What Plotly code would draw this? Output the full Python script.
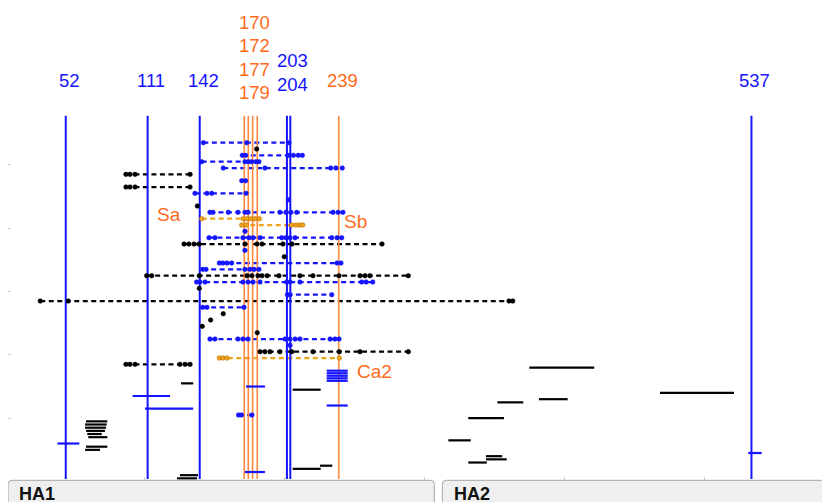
import plotly.graph_objects as go

# ---------------- data ----------------
# marked residues: label shown above the chart, drawn position on the sequence axis
site_labels = ["52", "111", "142", "170", "172", "177", "179", "203", "204", "239", "537"]
site_pos = [44.1, 102.6, 139.8, 171.6, 174.5, 177.6, 180.9, 202.1, 204.5, 239.1, 533.9]
site_kind = ["blue", "blue", "blue", "orange", "orange", "orange", "orange",
             "blue", "blue", "orange", "blue"]
site_group = [0, 1, 2, 3, 3, 3, 3, 4, 4, 5, 6]

# antigenic site names
antigenic_names = ["Sa", "Sb", "Ca2"]
antigenic_x = [117.6, 250.9, 264.5]
antigenic_row = [11.3, 12.5, 36.05]

# epitope rows (dashed, with residue dots)
dash_rows = list(range(0, 36)) + [43]
dash_kind = ["blue", "black", "blue", "blue", "blue", "black", "blue", "black", "blue", "blue",
             "black", "blue", "orange", "orange", "blue", "blue", "black", "blue", "black", "blue",
             "blue", "black", "blue", "black", "blue", "black", "blue", "black", "black", "black",
             "black", "blue", "blue", "black", "orange", "black", "blue"]
dash_points = [
    [142.4, 173.4, 203.6],
    [180.5],
    [170.2, 172.6, 203.1, 206.6, 210.2, 213.1],
    [141.2, 172.1, 174.5, 176.9, 180.0, 182.1],
    [156.6, 186.4, 233.4, 237.1, 241.6],
    [87.1, 90.0, 93.6, 132.9],
    [169.8, 172.6],
    [87.1, 90.0, 93.6, 132.9],
    [136.4, 145.0, 148.4, 172.9],
    [203.1],
    [138.1],
    [147.1, 149.3, 160.2, 167.1, 172.1, 174.3, 197.1, 201.4, 205.0, 209.1, 235.0, 238.6, 242.1],
    [141.2, 170.9, 173.6, 176.4, 179.3, 182.4],
    [169.8, 172.9, 205.5, 208.6, 211.4, 213.4],
    [172.1],
    [146.4, 150.7, 170.7, 175.0, 177.9, 182.9, 198.4, 201.4, 204.3, 207.9, 234.1, 237.9, 241.2],
    [128.6, 132.1, 135.7, 139.3, 172.1, 180.7, 184.3, 199.3, 205.7, 270.0],
    [172.1],
    [200.2],
    [153.8, 156.4, 159.3, 162.6, 237.9, 240.7],
    [141.9, 144.3, 172.1, 175.7, 178.6, 182.1],
    [101.9, 105.5, 139.5, 173.6, 177.1, 181.4, 184.3, 187.9, 196.4, 211.4, 220.7, 239.3,
     254.3, 257.9, 261.4, 288.8],
    [137.6, 140.0, 143.6, 170.7, 174.3, 177.9, 182.9, 201.9, 204.3, 211.4, 255.5, 258.6, 263.4],
    [139.5],
    [202.4, 204.3, 234.1],
    [25.9, 45.9, 360.7, 363.4],
    [141.9, 145.0, 171.4],
    [156.6],
    [147.6],
    [141.6],
    [180.9],
    [147.1, 150.7, 167.1, 170.7, 174.3, 200.7, 204.3, 207.9, 211.4, 232.9, 236.4, 239.3],
    [204.3],
    [182.9, 186.4, 190.0, 197.1, 205.5, 220.7, 239.5, 254.3, 288.8],
    [153.8, 156.4, 159.3, 239.5],
    [87.1, 90.0, 93.6, 125.7, 129.3, 132.9],
    [167.5, 169.6, 177.1],
]

# solid segments (row, start, end)
black_seg_row = [38, 39, 44, 44.5, 45, 45.5, 46, 46.5, 48, 48.5, 51, 51.5, 52.5, 53,
                 35.5, 39.5, 40.5, 41, 43.5, 47, 49.5, 50, 50.5]
black_seg_x0 = [126.4, 206.2, 58.6, 57.9, 57.9, 58.6, 59.5, 60.2, 58.6, 57.9, 225.7, 206.2, 125.7, 123.6,
                375.2, 468.6, 382.1, 352.4, 331.6, 317.4, 344.3, 344.3, 331.6]
black_seg_x1 = [135.2, 226.2, 73.8, 73.3, 72.9, 72.1, 69.8, 73.8, 73.8, 68.6, 234.5, 226.2, 138.6, 137.9,
                421.6, 521.4, 402.6, 370.9, 357.1, 333.4, 355.9, 359.1, 344.8]
blue_seg_row = [38.5, 40, 41.5, 42, 47.5, 52, 36.0, 36.4, 36.8, 37.2, 37.6, 49]
blue_seg_x0 = [172.9, 91.9, 230.5, 100.7, 38.1, 172.1, 230.5, 230.5, 230.5, 230.5, 230.5, 531.6]
blue_seg_x1 = [186.4, 118.6, 245.5, 135.2, 53.8, 186.4, 245.5, 245.5, 245.5, 245.5, 245.5, 541.2]

# protein domains shown as strips under the chart
domain_names = ["HA1", "HA2"]
domain_start = [2.9, 313.1]
domain_end = [307.4, 620.0]

x_ticks = [100, 200, 300, 400, 500]
y_ticks = [3.5, 13.5, 23.5, 33.5, 43.5]

# ---------------- styling / geometry ----------------
# the page adds an 8px body margin, so the figure is drawn 8px smaller
W, H = 822, 494
X_RANGE = [2.857, 590.0]
X_DOMAIN = [0.0, 1.0]
PLOT_H = 472
Y_RANGE = [53.26, -21.27]          # reversed: row 0 at the top
Y_DOMAIN = [(H - PLOT_H) / H, 1.0]
ROW_PX = PLOT_H / (Y_RANGE[0] - Y_RANGE[1])
LINE_TOP, LINE_BOTTOM = -4.26, 53.1

BLUE = "#1414ff"
BLACK = "#000000"
ORANGE_LINE = "#ff8a3d"
ORANGE_TEXT = "#ff6a1a"
ORANGE_DASH = "#f0a31c"
ORANGE_EDGE = "#b57300"
FONT = "Liberation Sans, Arial, sans-serif"

dash_colors = {"blue": BLUE, "black": BLACK, "orange": ORANGE_DASH}

fig = go.Figure()

# dashed epitope lines
for kind in ["black", "blue", "orange"]:
    xs, ys = [], []
    for r, k, pts in zip(dash_rows, dash_kind, dash_points):
        if k == kind and len(pts) > 1:
            xs += [min(pts), max(pts), None]
            ys += [r, r, None]
    fig.add_trace(go.Scatter(x=xs, y=ys, mode="lines", hoverinfo="skip",
                             line=dict(color=dash_colors[kind], width=2.3, dash="5px,3.5px")))

# vertical site lines
for kind, col, wd in [("blue", BLUE, 2), ("orange", ORANGE_LINE, 1.6)]:
    xs, ys = [], []
    for p, k in zip(site_pos, site_kind):
        if k == kind:
            xs += [p, p, None]
            ys += [LINE_TOP, LINE_BOTTOM, None]
    fig.add_trace(go.Scatter(x=xs, y=ys, mode="lines", hoverinfo="skip",
                             line=dict(color=col, width=wd)))

# residue dots
for kind in ["black", "blue", "orange"]:
    xs, ys = [], []
    for r, k, pts in zip(dash_rows, dash_kind, dash_points):
        if k == kind:
            xs += pts
            ys += [r] * len(pts)
    edge = ORANGE_EDGE if kind == "orange" else dash_colors[kind]
    fig.add_trace(go.Scatter(x=xs, y=ys, mode="markers", hoverinfo="skip",
                             marker=dict(color=dash_colors[kind], size=4.5,
                                         line=dict(color=edge, width=0.6))))

# solid segments
for rows, x0s, x1s, col in [(black_seg_row, black_seg_x0, black_seg_x1, BLACK),
                            (blue_seg_row, blue_seg_x0, blue_seg_x1, BLUE)]:
    xs, ys = [], []
    for r, a, b in zip(rows, x0s, x1s):
        xs += [a, b, None]
        ys += [r, r, None]
    fig.add_trace(go.Scatter(x=xs, y=ys, mode="lines", hoverinfo="skip",
                             line=dict(color=col, width=2.2)))

annotations = []


def px_to_row(py_page):
    """page pixel (incl. 8px offset) -> row units"""
    return Y_RANGE[1] + (py_page - 8) / ROW_PX


# site number labels stacked above each group of lines
groups = {}
for lab, p, k, g in zip(site_labels, site_pos, site_kind, site_group):
    groups.setdefault(g, []).append((lab, p, k))
for g, members in groups.items():
    n = len(members)
    cx = sum(m[1] for m in members) / n + 2.5
    bottom = 80 + 4.2 * (n - 1)
    for i, (lab, p, k) in enumerate(members):
        py = bottom - (n - 1 - i) * 23.5
        annotations.append(dict(x=cx, y=px_to_row(py), xref="x", yref="y", text=lab,
                                showarrow=False, xanchor="center", yanchor="middle",
                                font=dict(family=FONT, size=18.5,
                                          color=BLUE if k == "blue" else ORANGE_TEXT)))

# antigenic site names
for name, ax, ar in zip(antigenic_names, antigenic_x, antigenic_row):
    annotations.append(dict(x=ax, y=ar, xref="x", yref="y", text=name, showarrow=False,
                            xanchor="center", yanchor="middle",
                            font=dict(family=FONT, size=19, color=ORANGE_TEXT)))


def x_to_paper(x):
    f = (x - X_RANGE[0]) / (X_RANGE[1] - X_RANGE[0])
    return X_DOMAIN[0] + f * (X_DOMAIN[1] - X_DOMAIN[0])


# domain strips
shapes = []
top = (H - 472.3) / H
rx, ry = 4 / W, 4 / H
for name, s, e in zip(domain_names, domain_start, domain_end):
    x0, x1 = x_to_paper(s), x_to_paper(e)
    path = (f"M {x0},-0.1 L {x0},{top - ry} Q {x0},{top} {x0 + rx},{top} "
            f"L {x1 - rx},{top} Q {x1},{top} {x1},{top - ry} L {x1},-0.1 Z")
    shapes.append(dict(type="path", path=path, xref="paper", yref="paper",
                       fillcolor="#efefef", line=dict(color="#a6a6a6", width=1), layer="above"))
    annotations.append(dict(x=x0 + 9.3 / W, y=(H - 485.5) / H, xref="paper", yref="paper",
                            text=f"<b>{name}</b>", showarrow=False, xanchor="left",
                            yanchor="middle", font=dict(family=FONT, size=18, color="#111111")))

fig.update_layout(
    width=W, height=H,
    margin=dict(l=0, r=0, t=0, b=0),
    paper_bgcolor="white", plot_bgcolor="white",
    showlegend=False,
    xaxis=dict(range=X_RANGE, domain=X_DOMAIN, showgrid=False, zeroline=False, showline=False,
               ticks="inside", ticklen=3, tickcolor="#cfcfcf", tickvals=x_ticks,
               showticklabels=False, fixedrange=True),
    yaxis=dict(range=Y_RANGE, domain=Y_DOMAIN, showgrid=False, zeroline=False, showline=False,
               ticks="inside", ticklen=3, tickcolor="#cfcfcf", tickvals=y_ticks,
               showticklabels=False, fixedrange=True),
    annotations=annotations,
    shapes=shapes,
)

fig.write_html("out.html")
